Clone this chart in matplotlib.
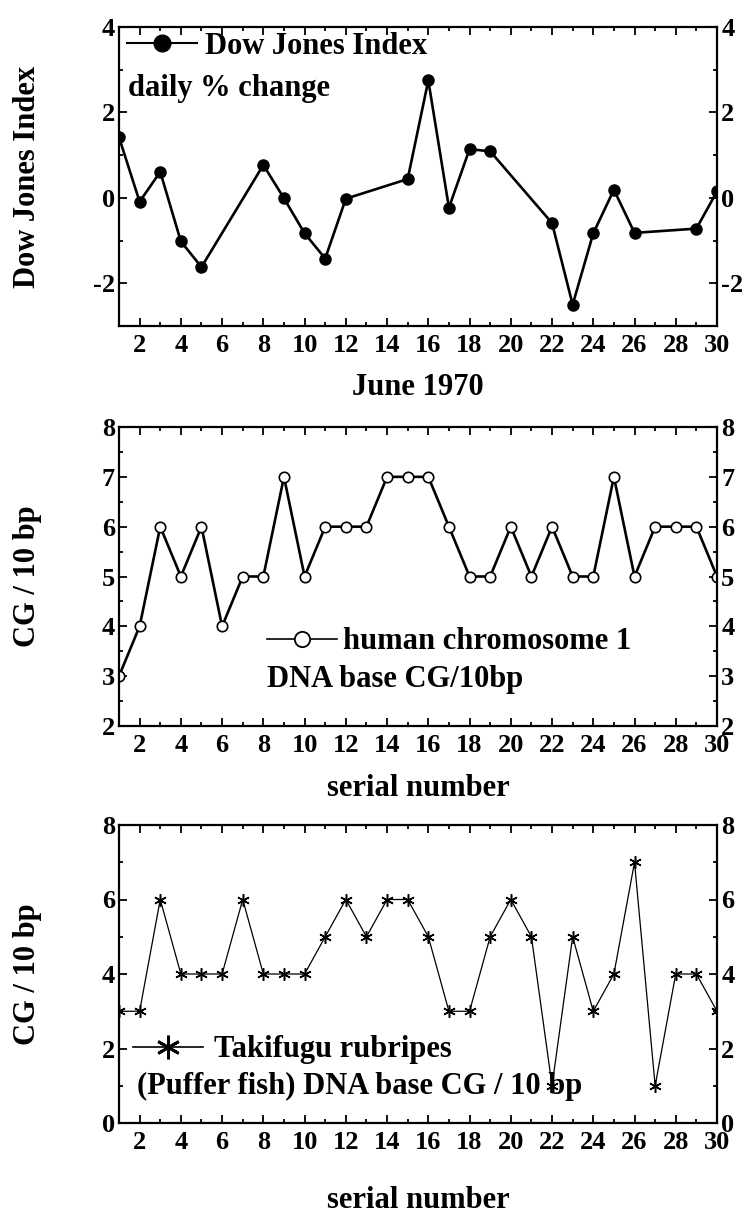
import matplotlib
matplotlib.use("Agg")
import matplotlib.pyplot as plt
from matplotlib.ticker import MultipleLocator
from matplotlib.lines import Line2D

plt.rcParams['font.family'] = ['Liberation Serif', 'DejaVu Serif']
plt.rcParams['font.weight'] = 'bold'
plt.rcParams['axes.unicode_minus'] = False

# ---- data ----
dow_days = [1, 2, 3, 4, 5, 8, 9, 10, 11, 12, 15, 16, 17, 18, 19, 22, 23, 24, 25, 26, 29, 30]
dow_change = [1.42, -0.09, 0.61, -1.02, -1.62, 0.77, -0.01, -0.83, -1.42, -0.02, 0.44, 2.75,
              -0.23, 1.14, 1.09, -0.59, -2.50, -0.83, 0.19, -0.82, -0.72, 0.15]

serial = list(range(1, 31))
human_cg = [3, 4, 6, 5, 6, 4, 5, 5, 7, 5, 6, 6, 6, 7, 7, 7, 6, 5, 5, 6, 5, 6, 5, 5, 7, 5, 6, 6, 6, 5]
fugu_cg = [3, 3, 6, 4, 4, 4, 6, 4, 4, 4, 5, 6, 5, 6, 6, 5, 3, 3, 5, 6, 5, 1, 5, 3, 4, 7, 1, 4, 4, 3]

x_ticks = list(range(2, 31, 2))

W, H = 747, 1222
fig = plt.figure(figsize=(W / 100, H / 100), dpi=100)

def frac(l, t, r, b):
    return [l / W, 1 - b / H, (r - l) / W, (b - t) / H]

ax1 = fig.add_axes(frac(119, 27, 717, 326))
ax2 = fig.add_axes(frac(119, 427, 717, 726))
ax3 = fig.add_axes(frac(119, 825, 717, 1123))

TICKFS = 19
LABFS = 22

def style(ax, ylim, ymajor, yminor):
    ax.set_xlim(1, 30)
    ax.set_ylim(*ylim)
    ax.xaxis.set_minor_locator(MultipleLocator(1))
    ax.yaxis.set_major_locator(MultipleLocator(ymajor))
    ax.yaxis.set_minor_locator(MultipleLocator(yminor))
    ax.set_xticks(x_ticks)
    ax.tick_params(which='both', direction='in', top=True, right=True,
                   labelright=True, labelsize=TICKFS, width=1.3)
    ax.tick_params(axis='x', which='major', pad=6)
    ax.tick_params(axis='y', which='major', pad=3)
    ax.tick_params(which='major', length=5.5)
    ax.tick_params(which='minor', length=3)
    for lab in ax.get_xticklabels() + ax.get_yticklabels():
        lab.set_fontweight('bold')
    for sp in ax.spines.values():
        sp.set_linewidth(1.6)

def labels(ax, xl, yl, xly):
    ax.set_xlabel(xl, fontsize=LABFS, fontweight='bold', va='top')
    ax.xaxis.set_label_coords(0.5, xly)
    ax.set_ylabel(yl, fontsize=LABFS, fontweight='bold', va='bottom')
    ax.yaxis.set_label_coords(-0.128, 0.5)

# Top panel
ax1.plot(dow_days, dow_change, color='black', lw=1.9, marker='o', ms=8,
         mfc='black', mec='black')
style(ax1, (-3, 4), 2, 1)
labels(ax1, 'June 1970', 'Dow Jones Index', -0.158)
h1 = Line2D([], [], color='black', lw=1.5, marker='o', ms=12, mfc='black')
ax1.legend([h1], ['Dow Jones Index'], loc='center left', frameon=False,
           prop={'size': LABFS, 'weight': 'bold'}, handlelength=2.3,
           handletextpad=0.26, borderpad=0.0, borderaxespad=0.0,
           bbox_to_anchor=(0.013, 0.935))
ax1.text(0.015, 0.795, 'daily % change', transform=ax1.transAxes,
         fontsize=LABFS, fontweight='bold', va='center', ha='left')

# Middle panel
ax2.plot(serial, human_cg, color='black', lw=1.9, marker='o', ms=7.5,
         mfc='white', mec='black', mew=1.2)
style(ax2, (2, 8), 1, 0.5)
labels(ax2, 'serial number', 'CG / 10 bp', -0.16)
h2 = Line2D([], [], color='black', lw=1.2, marker='o', ms=11, mfc='white', mew=1.3)
ax2.legend([h2], ['human chromosome 1'], loc='center left', frameon=False,
           prop={'size': LABFS, 'weight': 'bold'}, handlelength=2.3,
           handletextpad=0.2, borderpad=0.0, borderaxespad=0.0,
           bbox_to_anchor=(0.247, 0.281))
ax2.text(0.248, 0.154, 'DNA base CG/10bp', transform=ax2.transAxes,
         fontsize=LABFS, fontweight='bold', va='center', ha='left')

# Bottom panel
ax3.plot(serial, fugu_cg, color='black', lw=0.9, marker=(6, 2, 0), ms=9,
         mec='black', mew=1.1)
style(ax3, (0, 8), 2, 1)
labels(ax3, 'serial number', 'CG / 10 bp', -0.212)
h3 = Line2D([], [], color='black', lw=1.2, marker=(6, 2, 0), ms=17, mew=2.0)
ax3.legend([h3], ['Takifugu rubripes'], loc='center left', frameon=False,
           prop={'size': LABFS, 'weight': 'bold'}, handlelength=2.3,
           handletextpad=0.35, borderpad=0.0, borderaxespad=0.0,
           bbox_to_anchor=(0.023, 0.245))
ax3.text(0.03, 0.121, '(Puffer fish) DNA base CG / 10 bp', transform=ax3.transAxes,
         fontsize=LABFS, fontweight='bold', va='center', ha='left')

fig.savefig('out.png', dpi=100)
